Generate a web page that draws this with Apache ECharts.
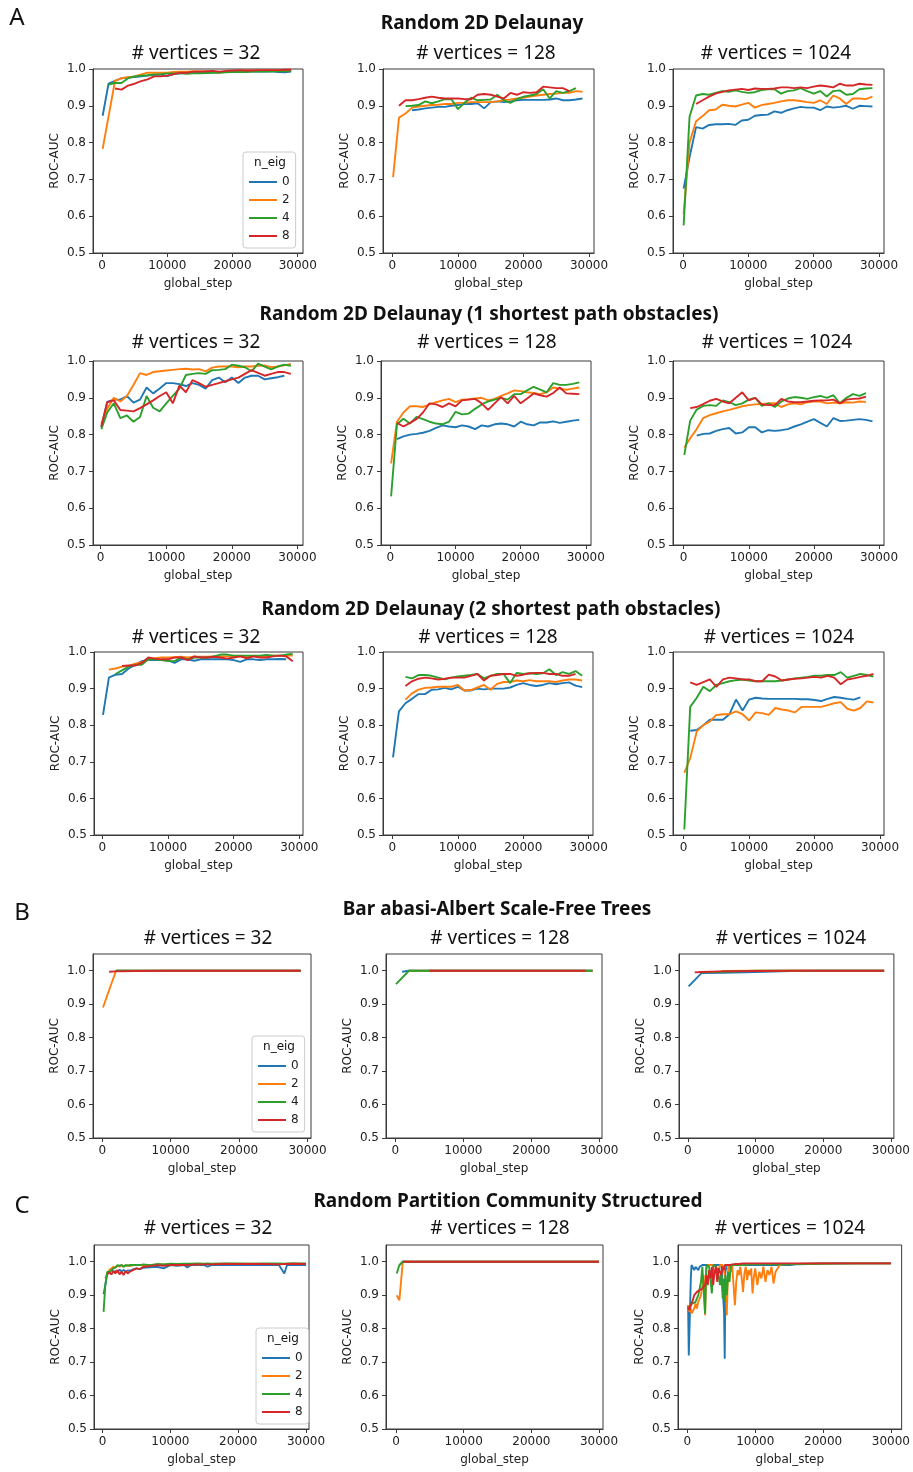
<!DOCTYPE html>
<html>
<head>
<meta charset="utf-8">
<script src="https://cdn.jsdelivr.net/npm/echarts@6.0.0/dist/echarts.min.js"></script>
<style>
  html, body { margin: 0; padding: 0; background: #fff; }
  #main { width: 913px; height: 1472px; }
</style>
</head>
<body>
<div id="main"></div>
<script>
// ---- data ----
const nEig = ['0', '2', '4', '8'];
const xTicks = [0, 10000, 20000, 30000];
const yTicks = [0.5, 0.6, 0.7, 0.8, 0.9, 1.0];

// rows A (Random 2D Delaunay, with 0/1/2 shortest path obstacles)
const stepsA = [100, 1000, 2000, 3000, 4000, 5000, 6000, 7000, 8000, 9000, 10000, 11000, 12000, 13000, 14000,
  15000, 16000, 17000, 18000, 19000, 20000, 21000, 22000, 23000, 24000, 25000, 26000, 27000, 28000, 29000];

const A_32_e0 = [0.873, 0.96, 0.968, 0.975, 0.977, 0.978, 0.98, 0.982, 0.984, 0.985, 0.981, 0.986, 0.988, 0.99, 0.99, 0.99, 0.99, 0.991, 0.992, 0.993, 0.995, 0.994, 0.993, 0.994, 0.993, 0.993, 0.994, 0.992, 0.991, 0.993];
const A_32_e2 = [0.783, null, 0.968, 0.975, 0.978, 0.98, 0.985, 0.99, 0.99, 0.99, 0.99, 0.992, 0.993, 0.993, 0.994, 0.994, 0.993, 0.992, 0.99, 0.993, 0.995, 0.995, 0.996, 0.995, 0.996, 0.996, 0.996, 0.997, 0.997, 0.998];
const A_32_e4 = [null, 0.958, 0.962, 0.962, 0.975, 0.98, 0.982, 0.983, 0.985, 0.986, 0.988, 0.988, 0.988, 0.987, 0.988, 0.988, 0.989, 0.99, 0.99, 0.991, 0.992, 0.992, 0.992, 0.993, 0.993, 0.993, 0.994, 0.994, 0.994, 0.996];
const A_32_e8 = [null, null, 0.947, 0.944, 0.955, 0.96, 0.967, 0.972, 0.98, 0.98, 0.982, 0.986, 0.99, 0.99, 0.993, 0.993, 0.994, 0.995, 0.993, 0.995, 0.996, 0.997, 0.996, 0.996, 0.997, 0.997, 0.997, 0.997, 0.998, 0.998];

const A_128_e0 = [null, null, null, 0.888, 0.89, 0.893, 0.895, 0.897, 0.897, 0.9, 0.902, 0.905, 0.905, 0.907, 0.893, 0.91, 0.912, 0.91, 0.912, 0.915, 0.916, 0.916, 0.916, 0.916, 0.917, 0.92, 0.915, 0.915, 0.917, 0.92];
const A_128_e2 = [0.706, 0.868, 0.879, 0.895, 0.898, 0.9, 0.902, 0.903, 0.905, 0.905, 0.908, 0.908, 0.91, 0.91, 0.91, 0.91, 0.912, 0.915, 0.917, 0.92, 0.922, 0.925, 0.928, 0.93, 0.932, 0.933, 0.935, 0.935, 0.94, 0.938];
const A_128_e4 = [null, null, 0.899, 0.9, 0.902, 0.912, 0.907, 0.912, 0.918, 0.918, 0.891, 0.908, 0.922, 0.915, 0.916, 0.917, 0.93, 0.915, 0.908, 0.918, 0.925, 0.928, 0.932, 0.945, 0.92, 0.94, 0.935, 0.94, 0.948, null];
const A_128_e8 = [null, 0.9, 0.915, 0.915, 0.918, 0.922, 0.925, 0.922, 0.92, 0.92, 0.92, 0.918, 0.918, 0.93, 0.932, 0.93, 0.925, 0.92, 0.935, 0.93, 0.937, 0.935, 0.937, 0.952, 0.95, 0.948, 0.948, 0.94, null, null];

const A_1024_e0 = [0.675, 0.76, 0.842, 0.838, 0.848, 0.85, 0.85, 0.851, 0.848, 0.86, 0.862, 0.873, 0.875, 0.876, 0.885, 0.881, 0.888, 0.893, 0.897, 0.895, 0.895, 0.888, 0.898, 0.895, 0.897, 0.9, 0.892, 0.9, 0.899, 0.898];
const A_1024_e2 = [0.605, 0.8, 0.858, 0.872, 0.888, 0.89, 0.903, 0.9, 0.898, 0.903, 0.908, 0.895, 0.902, 0.905, 0.908, 0.912, 0.915, 0.915, 0.913, 0.91, 0.908, 0.915, 0.905, 0.928, 0.92, 0.905, 0.92, 0.92, 0.918, 0.925];
const A_1024_e4 = [0.575, 0.87, 0.928, 0.932, 0.93, 0.935, 0.94, 0.938, 0.942, 0.938, 0.935, 0.937, 0.943, 0.945, 0.945, 0.933, 0.94, 0.942, 0.948, 0.94, 0.933, 0.94, 0.925, 0.94, 0.942, 0.93, 0.932, 0.945, 0.947, 0.948];
const A_1024_e8 = [null, null, 0.905, 0.915, 0.925, 0.933, 0.938, 0.942, 0.944, 0.946, 0.943, 0.947, 0.946, 0.946, 0.947, 0.95, 0.95, 0.948, 0.95, 0.948, 0.952, 0.955, 0.953, 0.95, 0.96, 0.955, 0.955, 0.96, 0.958, 0.957];

const A1_32_e0 = [0.821, 0.889, 0.895, 0.895, 0.905, 0.887, 0.895, 0.928, 0.912, 0.925, 0.94, 0.94, 0.937, 0.932, 0.94, 0.935, 0.925, 0.948, 0.955, 0.942, 0.955, 0.94, 0.955, 0.96, 0.96, 0.95, 0.953, 0.956, 0.96, null];
const A1_32_e2 = [0.83, 0.87, 0.9, 0.89, 0.905, 0.935, 0.967, 0.962, 0.97, 0.972, 0.974, 0.976, 0.978, 0.979, 0.977, 0.978, 0.972, 0.982, 0.985, 0.985, 0.985, 0.983, 0.985, 0.985, 0.987, 0.988, 0.983, 0.985, 0.988, 0.992];
const A1_32_e4 = [0.815, 0.86, 0.885, 0.845, 0.852, 0.835, 0.848, 0.905, 0.873, 0.863, 0.885, 0.905, 0.925, 0.962, 0.965, 0.967, 0.965, 0.975, 0.976, 0.978, 0.99, 0.987, 0.983, 0.972, 0.993, 0.985, 0.977, 0.985, 0.99, 0.987];
const A1_32_e8 = [0.822, 0.888, 0.893, 0.867, 0.865, 0.863, 0.872, 0.882, 0.893, 0.905, 0.915, 0.885, 0.933, 0.915, 0.948, 0.94, 0.93, 0.935, 0.94, 0.945, 0.95, 0.955, 0.965, 0.975, 0.968, 0.96, 0.965, 0.97, 0.97, 0.965];

const A1_128_e0 = [null, 0.788, 0.795, 0.8, 0.802, 0.805, 0.81, 0.818, 0.825, 0.822, 0.82, 0.825, 0.822, 0.815, 0.825, 0.822, 0.828, 0.83, 0.828, 0.822, 0.835, 0.828, 0.825, 0.833, 0.833, 0.836, 0.832, 0.835, 0.838, 0.84];
const A1_128_e2 = [0.722, 0.835, 0.86, 0.877, 0.877, 0.875, 0.882, 0.888, 0.893, 0.897, 0.888, 0.895, 0.896, 0.898, 0.9, 0.893, 0.897, 0.905, 0.912, 0.92, 0.918, 0.915, 0.913, 0.91, 0.915, 0.928, 0.925, 0.922, 0.925, 0.928];
const A1_128_e4 = [0.632, 0.828, 0.843, 0.83, 0.848, 0.842, 0.835, 0.83, 0.828, 0.835, 0.862, 0.855, 0.857, 0.87, 0.882, 0.89, 0.895, 0.9, 0.895, 0.91, 0.91, 0.92, 0.93, 0.922, 0.915, 0.94, 0.935, 0.935, 0.938, 0.942];
const A1_128_e8 = [null, 0.832, 0.822, 0.832, 0.842, 0.86, 0.885, 0.882, 0.875, 0.885, 0.877, 0.893, 0.895, 0.897, 0.885, 0.867, 0.885, 0.902, 0.885, 0.905, 0.885, 0.898, 0.912, 0.907, 0.903, 0.913, 0.928, 0.912, 0.911, 0.91];

const A1_1024_e0 = [null, null, 0.797, 0.802, 0.803, 0.81, 0.815, 0.818, 0.803, 0.806, 0.82, 0.82, 0.806, 0.812, 0.81, 0.812, 0.815, 0.822, 0.828, 0.835, 0.842, 0.832, 0.822, 0.845, 0.837, 0.838, 0.84, 0.842, 0.84, 0.836];
const A1_1024_e2 = [0.765, 0.79, 0.815, 0.845, 0.853, 0.858, 0.863, 0.867, 0.872, 0.877, 0.88, 0.882, 0.883, 0.885, 0.885, 0.875, 0.882, 0.885, 0.882, 0.888, 0.89, 0.89, 0.885, 0.887, 0.885, 0.888, 0.887, 0.89, 0.889, null];
const A1_1024_e4 = [0.745, 0.838, 0.868, 0.878, 0.88, 0.878, 0.893, 0.888, 0.88, 0.885, 0.895, 0.9, 0.878, 0.885, 0.875, 0.89, 0.898, 0.902, 0.9, 0.897, 0.902, 0.905, 0.9, 0.907, 0.885, 0.9, 0.91, 0.905, 0.913, null];
const A1_1024_e8 = [null, 0.872, 0.875, 0.883, 0.892, 0.897, 0.89, 0.885, 0.9, 0.915, 0.893, 0.9, 0.882, 0.88, 0.88, 0.897, 0.89, 0.888, 0.888, 0.89, 0.892, 0.893, 0.893, 0.895, 0.885, 0.895, 0.897, 0.898, 0.903, null];

const A2_32_e0 = [0.828, 0.93, 0.938, 0.94, 0.955, 0.965, 0.975, 0.978, 0.978, 0.978, 0.977, 0.97, 0.98, 0.98, 0.976, 0.98, 0.98, 0.98, 0.98, 0.98, 0.978, 0.973, 0.98, 0.98, 0.978, 0.98, 0.98, 0.981, 0.98, null];
const A2_32_e2 = [null, 0.952, 0.955, 0.96, 0.962, 0.968, 0.972, 0.98, 0.983, 0.985, 0.985, 0.986, 0.987, 0.985, 0.987, 0.987, 0.987, 0.988, 0.988, 0.988, 0.989, 0.988, 0.988, 0.989, 0.988, 0.989, 0.99, 0.99, 0.99, 0.99];
const A2_32_e4 = [null, null, 0.94, 0.95, 0.96, 0.965, 0.965, 0.98, 0.98, 0.978, 0.975, 0.975, 0.985, 0.98, 0.985, 0.985, 0.985, 0.988, 0.993, 0.993, 0.99, 0.99, 0.99, 0.99, 0.99, 0.992, 0.99, 0.99, 0.993, 0.995];
const A2_32_e8 = [null, null, null, 0.962, 0.963, 0.963, 0.97, 0.985, 0.982, 0.98, 0.98, 0.985, 0.985, 0.978, 0.988, 0.985, 0.985, 0.987, 0.985, 0.982, 0.985, 0.988, 0.983, 0.988, 0.985, 0.985, 0.988, 0.99, 0.988, 0.975];

const A2_128_e0 = [0.712, 0.838, 0.86, 0.872, 0.885, 0.885, 0.897, 0.898, 0.902, 0.898, 0.905, 0.895, 0.895, 0.9, 0.898, 0.9, 0.9, 0.9, 0.903, 0.91, 0.915, 0.91, 0.907, 0.91, 0.915, 0.912, 0.915, 0.917, 0.908, 0.904];
const A2_128_e2 = [null, null, 0.87, 0.887, 0.897, 0.902, 0.903, 0.905, 0.905, 0.905, 0.91, 0.895, 0.896, 0.903, 0.91, 0.897, 0.913, 0.918, 0.918, 0.922, 0.92, 0.923, 0.92, 0.92, 0.92, 0.918, 0.922, 0.925, 0.925, 0.922];
const A2_128_e4 = [null, null, 0.932, 0.928, 0.937, 0.937, 0.935, 0.93, 0.925, 0.93, 0.933, 0.935, 0.937, 0.94, 0.928, 0.935, 0.94, 0.94, 0.915, 0.943, 0.94, 0.942, 0.94, 0.942, 0.953, 0.937, 0.945, 0.94, 0.948, 0.935];
const A2_128_e8 = [null, null, 0.907, 0.92, 0.927, 0.93, 0.928, 0.925, 0.927, 0.93, 0.93, 0.93, 0.935, 0.94, 0.922, 0.935, 0.937, 0.94, 0.94, 0.935, 0.938, 0.942, 0.943, 0.943, 0.94, 0.94, 0.935, 0.935, 0.94, null];

const A2_1024_e0 = [null, 0.785, 0.787, 0.8, 0.815, 0.815, 0.815, 0.83, 0.87, 0.84, 0.87, 0.875, 0.873, 0.872, 0.872, 0.872, 0.872, 0.872, 0.871, 0.871, 0.869, 0.866, 0.872, 0.877, 0.875, 0.872, 0.87, 0.876, null, null];
const A2_1024_e2 = [0.67, 0.71, 0.783, 0.8, 0.81, 0.828, 0.83, 0.83, 0.838, 0.83, 0.813, 0.835, 0.833, 0.828, 0.847, 0.843, 0.84, 0.835, 0.85, 0.85, 0.85, 0.85, 0.855, 0.86, 0.863, 0.845, 0.84, 0.847, 0.865, 0.862];
const A2_1024_e4 = [0.515, 0.85, 0.875, 0.905, 0.893, 0.91, 0.915, 0.92, 0.923, 0.925, 0.922, 0.92, 0.92, 0.92, 0.92, 0.922, 0.925, 0.928, 0.93, 0.932, 0.935, 0.935, 0.937, 0.937, 0.945, 0.93, 0.935, 0.94, 0.937, 0.933];
const A2_1024_e8 = [null, 0.917, 0.91, 0.918, 0.925, 0.905, 0.925, 0.93, 0.928, 0.925, 0.925, 0.92, 0.92, 0.938, 0.933, 0.922, 0.925, 0.927, 0.928, 0.93, 0.932, 0.93, 0.935, 0.93, 0.912, 0.925, 0.928, 0.932, 0.935, 0.94];

// row B (Barabasi-Albert trees)
const stepsB = [100, 1000, 2000, 5000, 10000, 15000, 20000, 25000, 28000, 29000];
const B_32_e0 = [null, null, 1.0, 1.0, 1.0, 1.0, 1.0, 1.0, 1.0, 1.0];
const B_32_e2 = [0.89, null, 1.0, 1.0, 1.0, 1.0, 1.0, 1.0, 1.0, 1.0];
const B_32_e4 = [null, null, 1.0, 1.0, 1.0, 1.0, 1.0, 1.0, 1.0, 1.0];
const B_32_e8 = [null, 0.997, 0.998, 0.999, 1.0, 1.0, 1.0, 1.0, 1.0, 1.0];
const B_128_e0 = [null, 0.997, 1.0, 1.0, 1.0, 1.0, 1.0, 1.0, 1.0, 1.0];
const B_128_e2 = [null, null, 1.0, 1.0, 1.0, 1.0, 1.0, 1.0, 1.0, 1.0];
const B_128_e4 = [0.96, null, 1.0, 1.0, 1.0, 1.0, 1.0, 1.0, 1.0, 1.0];
const B_128_e8 = [null, null, null, 1.0, 1.0, 1.0, 1.0, 1.0, 1.0, null];
const B_1024_e0 = [0.953, null, 0.993, 0.994, 0.996, 0.999, 1.0, 1.0, 1.0, 1.0];
const B_1024_e2 = [null, null, null, 0.999, 1.0, 1.0, 1.0, 1.0, 1.0, 1.0];
const B_1024_e4 = [null, null, 0.995, 0.997, 1.0, 1.0, 1.0, 1.0, 1.0, 1.0];
const B_1024_e8 = [null, 0.995, 0.996, 0.998, 0.999, 1.0, 1.0, 1.0, 1.0, 1.0];

// row C (random partition community structured)
const stepsC32 = [150, 400, 700, 1000, 1300, 1600, 1900, 2200, 2500, 2800, 3100, 3400, 3700, 4000, 4500, 5000, 5500, 6000,
  7000, 8000, 9000, 10000, 11000, 12000, 12500, 13000, 14000, 15000, 15500, 16000, 18000, 20000, 22000, 24000, 26000,
  26800, 27200, 28000, 30000];
const C_32_e0 = [0.903, 0.93, 0.965, 0.968, 0.975, 0.97, 0.972, 0.97, 0.976, 0.972, 0.975, 0.97, 0.974, 0.973, 0.977, 0.98, 0.978, 0.982, 0.983, 0.985, 0.98, 0.99, 0.988, 0.99, 0.983, 0.99, 0.99, 0.99, 0.985, 0.99, 0.99, 0.99, 0.991, 0.99, 0.99, 0.965, 0.99, 0.99, 0.99];
const C_32_e2 = [null, 0.95, 0.965, 0.975, 0.98, 0.985, 0.982, 0.988, 0.985, 0.99, 0.985, 0.988, 0.99, 0.987, 0.99, 0.99, 0.99, 0.99, 0.99, 0.992, 0.992, 0.992, 0.993, 0.992, 0.993, 0.993, 0.992, 0.993, 0.993, 0.993, 0.994, 0.993, 0.994, 0.993, 0.993, 0.993, 0.993, 0.994, 0.993];
const C_32_e4 = [0.85, 0.93, 0.97, 0.968, 0.975, 0.98, 0.983, 0.99, 0.988, 0.99, 0.985, 0.99, 0.988, 0.99, 0.99, 0.99, 0.99, 0.992, 0.99, 0.993, 0.992, 0.994, 0.993, 0.994, 0.994, 0.994, 0.995, 0.994, 0.995, 0.994, 0.995, 0.995, 0.994, 0.995, 0.995, 0.994, 0.995, 0.995, 0.995];
const C_32_e8 = [null, null, 0.962, 0.968, 0.962, 0.972, 0.965, 0.975, 0.962, 0.97, 0.96, 0.972, 0.965, 0.97, 0.975, 0.98, 0.978, 0.985, 0.987, 0.99, 0.988, 0.99, 0.99, 0.99, 0.99, 0.991, 0.992, 0.992, 0.992, 0.992, 0.993, 0.993, 0.993, 0.993, 0.992, 0.993, 0.993, 0.994, 0.993];

const stepsC128 = [100, 500, 1000, 2000, 5000, 10000, 20000, 30000];
const C_128_e0 = [null, 0.99, 1.0, 1.0, 1.0, 1.0, 1.0, 1.0];
const C_128_e2 = [0.9, 0.885, 1.0, 1.0, 1.0, 1.0, 1.0, 1.0];
const C_128_e4 = [0.965, 0.99, 1.0, 1.0, 1.0, 1.0, 1.0, 1.0];
const C_128_e8 = [null, null, 1.0, 1.0, 1.0, 1.0, 1.0, 1.0];

const stepsC1024 = [100, 200, 300, 400, 500, 600, 800, 1000, 1200, 1400, 1600, 1800, 2000, 2200, 2400, 2600, 2800, 3000,
  3200, 3400, 3600, 3800, 4000, 4200, 4400, 4600, 4800, 5000, 5200, 5400, 5500, 5600, 5800, 6000, 6200, 6400, 6600,
  6800, 7000, 7200, 7400, 7600, 7800, 8000, 8200, 8400, 8600, 8800, 9000, 9200, 9400, 9600, 9800, 10000, 10300,
  10600, 10900, 11200, 11500, 11800, 12100, 12400, 12700, 13000, 13300, 13600, 14000, 15000, 16000, 18000, 20000,
  25000, 30000];
const C_1024_e0 = [0.87, 0.72, 0.715, 0.72, 0.95, 0.99, 0.99, 0.975, 0.985, 0.98, 0.975, 0.985, 0.99, 0.99, 0.988, 0.99, 0.99, 0.99,
  0.99, 0.99, 0.99, 0.99, 0.99, 0.99, 0.99, 0.99, 0.99, 0.99, 0.99, 0.85, 0.71, 0.97, 0.99, 0.99, 0.99, 0.99, 0.99,
  0.99, 0.99, 0.99, 0.99, 0.99, 0.99, 0.99, 0.99, 0.99, 0.99, 0.99, 0.99, 0.99, 0.99, 0.99, 0.99, 0.99, 0.99,
  0.99, 0.99, 0.99, 0.99, 0.99, 0.99, 0.99, 0.99, 0.99, 0.99, 0.99, 0.99, 0.99, 0.992, 0.993, 0.995,
  0.995, 0.995];
const C_1024_e2 = [0.87, 0.86, 0.85, 0.845, 0.86, 0.845, 0.84, 0.86, 0.875, 0.86, 0.88, 0.875, 0.9, 0.93, 0.96, 0.84, 0.98, 0.99,
  0.985, 0.99, 0.99, 0.99, 0.99, 0.985, 0.99, 0.975, 0.99, 0.985, 0.99, 0.99, 0.99, 0.95, 0.84, 0.98, 0.99, 0.97, 0.99,
  0.93, 0.87, 0.94, 0.975, 0.96, 0.985, 0.95, 0.91, 0.965, 0.985, 0.945, 0.975, 0.96, 0.98, 0.905, 0.955, 0.98, 0.93,
  0.97, 0.95, 0.985, 0.94, 0.975, 0.96, 0.985, 0.935, 0.97, 0.98, 0.99, 0.992, 0.993, 0.993, 0.994, 0.995,
  0.995, 0.995];
const C_1024_e4 = [0.865, 0.87, 0.87, 0.86, 0.875, 0.87, 0.875, 0.87, 0.88, 0.88, 0.9, 0.92, 0.94, 0.985, 0.99, 0.845, 0.99, 0.99,
  0.985, 0.99, 0.905, 0.99, 0.99, 0.985, 0.99, 0.96, 0.93, 0.97, 0.89, 0.95, 0.88, 0.96, 0.9, 0.97, 0.94, 0.99, 0.99,
  0.99, 0.99, 0.99, 0.99, 0.99, 0.99, 0.99, 0.991, 0.991, 0.991, 0.991, 0.992, 0.992, 0.992, 0.992, 0.992, 0.992, 0.992,
  0.992, 0.992, 0.992, 0.992, 0.992, 0.992, 0.992, 0.992, 0.992, 0.992, 0.992, 0.992, 0.992, 0.993, 0.994, 0.994,
  0.995, 0.995];
const C_1024_e8 = [0.865, 0.86, 0.855, 0.86, 0.87, 0.875, 0.885, 0.9, 0.905, 0.91, 0.912, 0.915, 0.918, 0.92, 0.925, 0.93, 0.96, 0.93,
  0.975, 0.95, 0.985, 0.93, 0.97, 0.985, 0.94, 0.98, 0.985, 0.96, 0.985, 0.975, 0.99, 0.985, 0.99, 0.985, 0.99, 0.99, 0.992,
  0.992, 0.993, 0.993, 0.993, 0.994, 0.994, 0.995, 0.995, 0.995, 0.995, 0.995, 0.995, 0.995, 0.995, 0.995, 0.995, 0.995, 0.995,
  0.995, 0.995, 0.995, 0.995, 0.995, 0.995, 0.995, 0.995, 0.995, 0.995, 0.995, 0.995, 0.995, 0.995, 0.995, 0.995,
  0.995, 0.995];

// ---- layout ----
const colors = ['#1f77b4', '#ff7f0e', '#2ca02c', '#d62728'];
const tickFont = 'DejaVu Sans';
const axisColor = '#3a3a3a';

// box: [left, top, width, height], x: axis extent
const panels = [
  { box: [93, 69, 210, 184], x: [-1380, 30810], yMax: 1.0, steps: stepsA, ys: [A_32_e0, A_32_e2, A_32_e4, A_32_e8] },
  { box: [383, 69, 211, 184], x: [-1440, 30760], yMax: 1.0, steps: stepsA, ys: [A_128_e0, A_128_e2, A_128_e4, A_128_e8] },
  { box: [673, 69, 211, 184], x: [-1530, 30770], yMax: 1.0, steps: stepsA, ys: [A_1024_e0, A_1024_e2, A_1024_e4, A_1024_e8] },
  { box: [93, 361, 210, 184], x: [-1170, 30850], yMax: 1.0, steps: stepsA, ys: [A1_32_e0, A1_32_e2, A1_32_e4, A1_32_e8] },
  { box: [381, 361, 210, 184], x: [-1450, 30800], yMax: 1.0, steps: stepsA, ys: [A1_128_e0, A1_128_e2, A1_128_e4, A1_128_e8] },
  { box: [673, 361, 211, 184], x: [-1640, 30770], yMax: 1.0, steps: stepsA, ys: [A1_1024_e0, A1_1024_e2, A1_1024_e4, A1_1024_e8] },
  { box: [94, 652, 209, 183], x: [-1270, 30560], yMax: 1.0, steps: stepsA, ys: [A2_32_e0, A2_32_e2, A2_32_e4, A2_32_e8] },
  { box: [383, 652, 210, 183], x: [-1430, 30660], yMax: 1.0, steps: stepsA, ys: [A2_128_e0, A2_128_e2, A2_128_e4, A2_128_e8] },
  { box: [673, 652, 211, 183], x: [-1630, 30610], yMax: 1.0, steps: stepsA, ys: [A2_1024_e0, A2_1024_e2, A2_1024_e4, A2_1024_e8] },
  { box: [93, 954, 218, 184], x: [-1360, 30510], yMax: 1.05, steps: stepsB, ys: [B_32_e0, B_32_e2, B_32_e4, B_32_e8] },
  { box: [386, 954, 216, 184], x: [-1370, 30380], yMax: 1.05, steps: stepsB, ys: [B_128_e0, B_128_e2, B_128_e4, B_128_e8] },
  { box: [679, 954, 216, 184], x: [-1320, 30440], yMax: 1.05, steps: stepsB, ys: [B_1024_e0, B_1024_e2, B_1024_e4, B_1024_e8] },
  { box: [94, 1245, 215, 184], x: [-1265, 30440], yMax: 1.05, steps: stepsC32, ys: [C_32_e0, C_32_e2, C_32_e4, C_32_e8] },
  { box: [386, 1245, 217, 184], x: [-1480, 30590], yMax: 1.05, steps: stepsC128, ys: [C_128_e0, C_128_e2, C_128_e4, C_128_e8] },
  { box: [678, 1245, 224, 184], x: [-1390, 31580], yMax: 1.05, steps: stepsC1024, ys: [C_1024_e0, C_1024_e2, C_1024_e4, C_1024_e8] }
];

const grids = [], xAxes = [], yAxes = [], series = [];
panels.forEach((p, i) => {
  grids.push({
    left: p.box[0], top: p.box[1], width: p.box[2], height: p.box[3],
    show: true, borderColor: axisColor, borderWidth: 1, backgroundColor: 'transparent'
  });
  xAxes.push({
    gridIndex: i, type: 'value', min: p.x[0], max: p.x[1],
    name: 'global_step', nameLocation: 'middle', nameGap: 25,
    nameTextStyle: { fontFamily: tickFont, fontSize: 12, color: '#222' },
    axisLine: { show: true, onZero: false, lineStyle: { color: axisColor, width: 1 } },
    axisTick: { show: true, length: 4, customValues: xTicks, lineStyle: { color: axisColor } },
    axisLabel: { customValues: xTicks, formatter: v => String(v), margin: 7,
      fontFamily: tickFont, fontSize: 12, color: '#222' },
    splitLine: { show: false }
  });
  yAxes.push({
    gridIndex: i, type: 'value', min: 0.5, max: p.yMax,
    name: 'ROC-AUC', nameLocation: 'middle', nameRotate: 90, nameGap: 32,
    nameTextStyle: { fontFamily: tickFont, fontSize: 12, color: '#222' },
    axisLine: { show: true, onZero: false, lineStyle: { color: axisColor, width: 1 } },
    axisTick: { show: true, length: 4, customValues: yTicks, lineStyle: { color: axisColor } },
    axisLabel: { customValues: yTicks, formatter: v => v.toFixed(1), margin: 7,
      fontFamily: tickFont, fontSize: 12, color: '#222' },
    splitLine: { show: false }
  });
  p.ys.forEach((ys, k) => {
    series.push({
      type: 'line', name: nEig[k], xAxisIndex: i, yAxisIndex: i,
      data: p.steps.map((s, j) => [s, ys[j]]),
      showSymbol: false, connectNulls: true, silent: true, z: 2 + k,
      lineStyle: { width: 1.9, color: colors[k] },
      itemStyle: { color: colors[k] }
    });
  });
});

function makeLegend(left, top) {
  return {
    left: left, top: top, orient: 'vertical', data: nEig, selectedMode: false,
    icon: 'rect', itemWidth: 28, itemHeight: 2, itemGap: 4,
    padding: [23, 6, 5, 6],
    borderColor: '#cccccc', borderWidth: 1, borderRadius: 3,
    backgroundColor: 'rgba(255,255,255,0.8)',
    textStyle: { fontFamily: tickFont, fontSize: 12, color: '#222', lineHeight: 14 }
  };
}

// text: [string, x, y, font]
const bigTitle = 'bold 19px "Noto Sans"';
const subTitle = '19px "Noto Sans"';
const texts = [
  ['A', 17, 18, '24px "Noto Sans"'],
  ['B', 22, 913, '24px "Noto Sans"'],
  ['C', 22, 1206, '24px "Noto Sans"'],
  ['Random 2D Delaunay', 482, 24, bigTitle],
  ['Random 2D Delaunay (1 shortest path obstacles)', 489, 315, bigTitle],
  ['Random 2D Delaunay (2 shortest path obstacles)', 491, 610, bigTitle],
  ['Bar abasi-Albert Scale-Free Trees', 497, 910, bigTitle],
  ['Random Partition Community Structured', 508, 1202, bigTitle],
  ['# vertices = 32', 196, 54, subTitle], ['# vertices = 128', 486, 54, subTitle], ['# vertices = 1024', 776, 54, subTitle],
  ['# vertices = 32', 196, 343, subTitle], ['# vertices = 128', 487, 343, subTitle], ['# vertices = 1024', 777, 343, subTitle],
  ['# vertices = 32', 196, 638, subTitle], ['# vertices = 128', 488, 638, subTitle], ['# vertices = 1024', 779, 638, subTitle],
  ['# vertices = 32', 208, 939, subTitle], ['# vertices = 128', 500, 939, subTitle], ['# vertices = 1024', 791, 939, subTitle],
  ['# vertices = 32', 208, 1229, subTitle], ['# vertices = 128', 500, 1229, subTitle], ['# vertices = 1024', 790, 1229, subTitle],
  ['n_eig', 270, 163, '12px "DejaVu Sans"'],
  ['n_eig', 279, 1047, '12px "DejaVu Sans"'],
  ['n_eig', 283, 1339, '12px "DejaVu Sans"']
];

const chart = echarts.init(document.getElementById('main'), null, { renderer: 'canvas' });
chart.setOption({
  animation: false,
  backgroundColor: '#fff',
  grid: grids,
  xAxis: xAxes,
  yAxis: yAxes,
  series: series,
  legend: [makeLegend(243, 152), makeLegend(252, 1036), makeLegend(256, 1328)],
  graphic: texts.map(t => ({
    type: 'text', x: t[1], y: t[2], z: 100,
    style: { text: t[0], font: t[3], fill: '#111', align: 'center', verticalAlign: 'middle',
      textAlign: 'center', textVerticalAlign: 'middle' }
  }))
});
</script>
</body>
</html>
